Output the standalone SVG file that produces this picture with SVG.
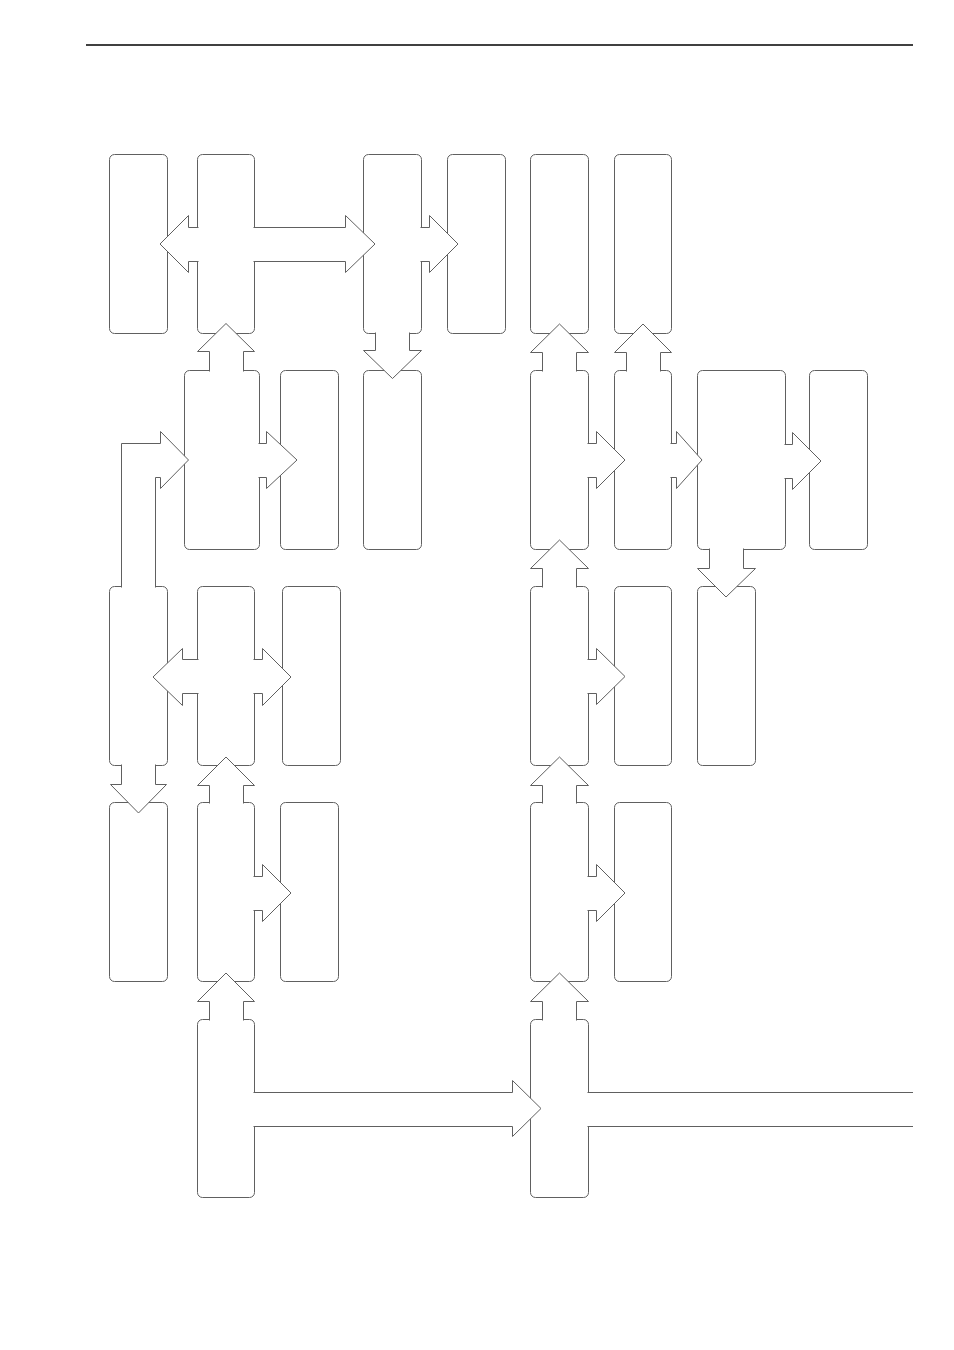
<svg xmlns="http://www.w3.org/2000/svg" width="954" height="1350" viewBox="0 0 954 1350">
<style>
.box{fill:#fff;stroke:#606060;stroke-width:1}
.arr{fill:#fff;stroke:#606060;stroke-width:1;stroke-linejoin:miter}
.rule{stroke:#000;stroke-width:1.3}
</style>
<rect width="954" height="1350" fill="#fff"/>
<line class="rule" x1="86" y1="45" x2="913" y2="45"/>
<g id="nodes">
<g id="A1"><rect class="box" x="109.5" y="154.5" width="58" height="179" rx="5"/></g>
<g id="A2"><rect class="box" x="197.5" y="154.5" width="57" height="179" rx="5"/></g>
<g id="A3"><rect class="box" x="363.5" y="154.5" width="58" height="179" rx="5"/></g>
<g id="A4"><rect class="box" x="447.5" y="154.5" width="58" height="179" rx="5"/></g>
<g id="A5"><rect class="box" x="530.5" y="154.5" width="58" height="179" rx="5"/></g>
<g id="A6"><rect class="box" x="614.5" y="154.5" width="57" height="179" rx="5"/></g>
<g id="B1"><rect class="box" x="184.5" y="370.5" width="75" height="179" rx="5"/></g>
<g id="B2"><rect class="box" x="280.5" y="370.5" width="58" height="179" rx="5"/></g>
<g id="B3"><rect class="box" x="363.5" y="370.5" width="58" height="179" rx="5"/></g>
<g id="B4"><rect class="box" x="530.5" y="370.5" width="58" height="179" rx="5"/></g>
<g id="B5"><rect class="box" x="614.5" y="370.5" width="57" height="179" rx="5"/></g>
<g id="B6"><rect class="box" x="697.5" y="370.5" width="88" height="179" rx="5"/></g>
<g id="B7"><rect class="box" x="809.5" y="370.5" width="58" height="179" rx="5"/></g>
<g id="C1"><rect class="box" x="109.5" y="586.5" width="58" height="179" rx="5"/></g>
<g id="C2"><rect class="box" x="197.5" y="586.5" width="57" height="179" rx="5"/></g>
<g id="C3"><rect class="box" x="282.5" y="586.5" width="58" height="179" rx="5"/></g>
<g id="C4"><rect class="box" x="530.5" y="586.5" width="58" height="179" rx="5"/></g>
<g id="C5"><rect class="box" x="614.5" y="586.5" width="57" height="179" rx="5"/></g>
<g id="C6"><rect class="box" x="697.5" y="586.5" width="58" height="179" rx="5"/></g>
<g id="D1"><rect class="box" x="109.5" y="802.5" width="58" height="179" rx="5"/></g>
<g id="D2"><rect class="box" x="197.5" y="802.5" width="57" height="179" rx="5"/></g>
<g id="D3"><rect class="box" x="280.5" y="802.5" width="58" height="179" rx="5"/></g>
<g id="D4"><rect class="box" x="530.5" y="802.5" width="58" height="179" rx="5"/></g>
<g id="D5"><rect class="box" x="614.5" y="802.5" width="57" height="179" rx="5"/></g>
<g id="E1"><rect class="box" x="197.5" y="1019.5" width="57" height="178" rx="5"/></g>
<g id="E2"><rect class="box" x="530.5" y="1019.5" width="58" height="178" rx="5"/></g>
</g>
<g id="connectors">
<polyline class="arr" points="198.5,227.5 188.5,227.5 188.5,215.5 160,244 188.5,272.5 188.5,261.5 198.5,261.5"/>
<polyline class="arr" points="253.5,227.5 345.5,227.5 345.5,215.5 375,244 345.5,272.5 345.5,261.5 253.5,261.5"/>
<polyline class="arr" points="420.5,227.5 429.5,227.5 429.5,215.5 458,244 429.5,272.5 429.5,261.5 420.5,261.5"/>
<polyline class="arr" points="375.5,332.5 375.5,350.5 363.5,350.5 392.5,378.5 421.5,350.5 409.5,350.5 409.5,332.5"/>
<polyline class="arr" points="209.5,371.5 209.5,351.5 197.5,351.5 226,323.5 254.5,351.5 243.5,351.5 243.5,371.5"/>
<polyline class="arr" points="258.5,443.5 266.5,443.5 266.5,431.5 297,460 266.5,488.5 266.5,477.5 258.5,477.5"/>
<polyline class="arr" points="121.5,587.5 121.5,443.5 160.5,443.5 160.5,431.5 188.5,460 160.5,488.5 160.5,477.5 155.5,477.5 155.5,587.5"/>
<polyline class="arr" points="542.5,371.5 542.5,352.5 530.5,352.5 559.5,324 588.5,352.5 576.5,352.5 576.5,371.5"/>
<polyline class="arr" points="626.5,371.5 626.5,352.5 614.5,352.5 643,324 671.5,352.5 660.5,352.5 660.5,371.5"/>
<polyline class="arr" points="587.5,443.5 596.5,443.5 596.5,431.5 625,460 596.5,488.5 596.5,477.5 587.5,477.5"/>
<polyline class="arr" points="670.5,443.5 676.5,443.5 676.5,431.5 702,460 676.5,488.5 676.5,477.5 670.5,477.5"/>
<polyline class="arr" points="784.5,444.5 792.5,444.5 792.5,432.5 821,461 792.5,489.5 792.5,478.5 784.5,478.5"/>
<polyline class="arr" points="709.5,548.5 709.5,568.5 697.5,568.5 726,597 755.5,568.5 743.5,568.5 743.5,548.5"/>
<polyline class="arr" points="542.5,587.5 542.5,568.5 530.5,568.5 559.5,540 588.5,568.5 576.5,568.5 576.5,587.5"/>
<polyline class="arr" points="198.5,659.5 182.5,659.5 182.5,648.5 153,677 182.5,705.5 182.5,693.5 198.5,693.5"/>
<polyline class="arr" points="253.5,659.5 262.5,659.5 262.5,648.5 291,677 262.5,705.5 262.5,693.5 253.5,693.5"/>
<polyline class="arr" points="587.5,659.5 596.5,659.5 596.5,648.5 625,676.5 596.5,704.5 596.5,693.5 587.5,693.5"/>
<polyline class="arr" points="121.5,764.5 121.5,784.5 110.5,784.5 138.5,813 166.5,784.5 155.5,784.5 155.5,764.5"/>
<polyline class="arr" points="209.5,803.5 209.5,785.5 197.5,785.5 226,757 254.5,785.5 243.5,785.5 243.5,803.5"/>
<polyline class="arr" points="253.5,876.5 262.5,876.5 262.5,864.5 291,893 262.5,921.5 262.5,910.5 253.5,910.5"/>
<polyline class="arr" points="542.5,803.5 542.5,785.5 530.5,785.5 559.5,757 588.5,785.5 576.5,785.5 576.5,803.5"/>
<polyline class="arr" points="587.5,876.5 596.5,876.5 596.5,864.5 625,893 596.5,921.5 596.5,910.5 587.5,910.5"/>
<polyline class="arr" points="209.5,1020.5 209.5,1001.5 197.5,1001.5 226,973 254.5,1001.5 243.5,1001.5 243.5,1020.5"/>
<polyline class="arr" points="542.5,1020.5 542.5,1001.5 530.5,1001.5 559.5,973 588.5,1001.5 576.5,1001.5 576.5,1020.5"/>
<polyline class="arr" points="253.5,1092.5 512.5,1092.5 512.5,1080.5 541,1108.5 512.5,1136.5 512.5,1126.5 253.5,1126.5"/>
<rect x="587.5" y="1092.5" width="325.5" height="34" fill="#fff"/>
<path d="M587.5,1092.5H913M587.5,1126.5H913" fill="none" stroke="#606060" stroke-width="1"/>
</g>
</svg>
